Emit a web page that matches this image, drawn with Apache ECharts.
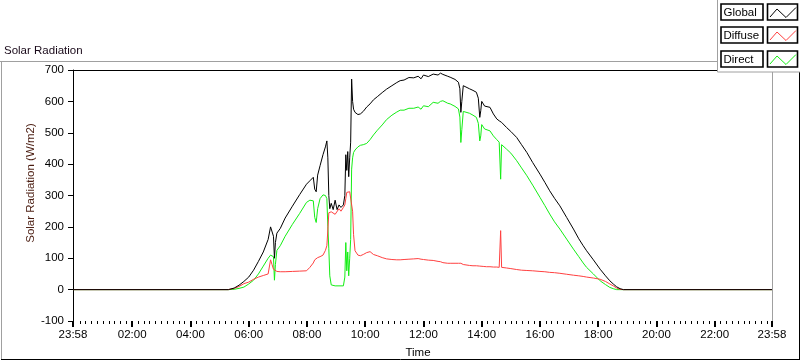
<!DOCTYPE html>
<html>
<head>
<meta charset="utf-8">
<script src="https://cdn.jsdelivr.net/npm/echarts@6/dist/echarts.min.js"></script>
<style>
html,body{margin:0;padding:0;background:#fff;}
#chart{width:800px;height:361px;}
</style>
</head>
<body>
<div id="chart"></div>
<script>
// time in minutes since midnight (-2 = 23:58 of previous day)
const minutes = [
  -2, 318, 330, 340, 350, 360, 370, 380, 390, 400,
  405, 408, 411, 413, 415, 418, 425, 435, 450, 465,
  479, 486, 493, 496, 499, 502, 507, 513, 518, 521,
  523, 525, 527, 530, 534, 538, 542, 546, 550, 555,
  558, 560, 562, 564, 566, 568, 570, 572, 574, 576,
  579, 585, 590, 596, 603, 610, 617, 625, 635, 644,
  655, 665, 672, 680, 690, 700, 709, 715, 720, 730,
  740, 750, 755, 760, 770, 775, 785, 792, 795, 797,
  799, 802, 806, 815, 822, 829, 833, 836, 838, 840,
  843, 846, 850, 857, 864, 871, 876, 878, 879, 881,
  884, 891, 900, 912, 922, 933, 945, 960, 970, 980,
  990, 1001, 1015, 1029, 1040, 1049, 1056, 1070, 1084, 1095,
  1104, 1111, 1118, 1125, 1132, 1438
];
const globalVals = [
  0, 0, 5, 14, 26, 40, 62, 90, 120, 160,
  200, 205, 170, 100, 150, 180, 195, 228, 266, 303,
  336, 347, 358, 320, 312, 365, 395, 430, 455, 474,
  420, 300, 258, 275, 255, 285, 255, 270, 262, 270,
  300, 430, 380, 440, 360, 420, 470, 671, 600, 575,
  565, 558, 560, 568, 582, 592, 605, 615, 628, 639,
  650, 660, 666, 668, 676, 675, 680, 672, 684, 679,
  687, 684, 690, 686, 680, 677, 670, 661, 640, 565,
  600, 650, 655, 640, 635, 629, 610, 549, 570, 600,
  597, 585, 590, 581, 560, 544, 538, 536, 536, 533,
  530, 517, 504, 485, 462, 437, 405, 368, 342, 315,
  291, 267, 230, 193, 162, 140, 124, 95, 65, 44,
  28, 18, 9, 3, 0, 0
];
const diffuseVals = [
  0, 0, 4, 10, 19, 24, 33, 40, 45, 50,
  95, 80, 65, 62, 60, 58, 57, 57, 58, 59,
  60, 71, 85, 95, 98, 102, 105, 110, 125, 140,
  190, 245, 250, 248, 251, 240, 245, 258, 250, 262,
  270, 290, 310, 310, 310, 312, 310, 310, 250, 175,
  124, 110, 108, 112, 118, 121, 112, 108, 102, 98,
  96, 95, 95, 96, 97, 98, 99, 97, 96, 94,
  93, 90, 89, 86, 84, 84, 84, 84, 82, 84,
  82, 80, 78, 77, 76, 76, 75, 75, 75, 74,
  74, 74, 73, 73, 72, 72, 71, 71, 188, 71,
  70, 69, 67, 64, 62, 61, 60, 58, 57, 55,
  54, 52, 49, 46, 44, 42, 40, 37, 33, 26,
  18, 12, 5, 1, 0, 0
];
const directVals = [
  0, 0, 1, 4, 8, 18, 30, 50, 75, 100,
  110, 115, 105, 30, 80, 125, 140, 170, 208, 243,
  278, 285, 283, 230, 214, 258, 290, 302, 300, 290,
  200, 130, 44, 15, 12, 12, 10, 12, 12, 12,
  40, 150, 60, 120, 44, 100, 160, 384, 420, 437,
  445, 455, 460, 462, 466, 478, 493, 508, 525, 542,
  556, 566, 572, 572, 578, 578, 582, 575, 586, 583,
  597, 594, 600, 602, 594, 592, 584, 576, 550, 469,
  510, 568, 572, 562, 556, 549, 530, 474, 490, 526,
  522, 512, 516, 506, 490, 478, 470, 468, 352, 462,
  460, 448, 435, 411, 388, 363, 333, 294, 268, 241,
  216, 193, 161, 129, 105, 85, 71, 50, 28, 16,
  7, 3, 0, 0, 0, 0
];
const seriesNames = ['Global', 'Diffuse', 'Direct'];
const seriesColors = ['#000000', '#ff4040', '#14ee14'];
const majorTicks = [-2, 120, 240, 360, 480, 600, 720, 840, 960, 1080, 1200, 1320, 1438];
const minorStep = 12;
const yMin = -100, yMax = 700, yStep = 100;

const minorTicks = [];
for (let m = minorStep; m < 1438; m += minorStep) {
  if (majorTicks.indexOf(m) < 0) minorTicks.push(m);
}

function fmtTime(v) {
  let m = Math.round(v);
  if (m < 0) m += 1440;
  const h = Math.floor(m / 60), mm = m % 60;
  return (h < 10 ? '0' : '') + h + ':' + (mm < 10 ? '0' : '') + mm;
}

const FONT = 'Liberation Sans';
const chart = echarts.init(document.getElementById('chart'), null, {renderer: 'canvas'});

const valuesBySeries = [globalVals, diffuseVals, directVals];
const series = [2, 1, 0].map(idx => ({
  name: seriesNames[idx],
  type: 'line',
  xAxisIndex: 0,
  yAxisIndex: 0,
  showSymbol: false,
  symbol: 'none',
  animation: false,
  silent: true,
  z: 3 + (2 - idx),
  lineStyle: {color: seriesColors[idx], width: 1},
  itemStyle: {color: seriesColors[idx]},
  data: minutes.map((m, i) => [m, valuesBySeries[idx][i]])
}));

const legendGraphics = [];
legendGraphics.push({
  type: 'rect', z: 50,
  shape: {x: 717.5, y: -2, width: 90, height: 74},
  style: {fill: '#ffffff', stroke: '#a0a0a0', lineWidth: 1}
});
seriesNames.forEach((name, i) => {
  const y0 = 4 + Math.round(i * 23.33);
  legendGraphics.push({
    type: 'rect', z: 51,
    shape: {x: 721, y: y0, width: 42, height: 16},
    style: {fill: '#fff', stroke: '#000', lineWidth: 1.6}
  });
  legendGraphics.push({
    type: 'text', z: 52, x: 723.5, y: y0 + 8.5,
    style: {text: name, fill: '#000', font: '11.5px "' + FONT + '"', textVerticalAlign: 'middle', textAlign: 'left'}
  });
  legendGraphics.push({
    type: 'rect', z: 51,
    shape: {x: 767.5, y: y0, width: 30, height: 16},
    style: {fill: '#fff', stroke: '#000', lineWidth: 1.6}
  });
  legendGraphics.push({
    type: 'polyline', z: 52,
    shape: {points: [[770, y0 + 13], [777, y0 + 5], [786, y0 + 13.5], [796, y0 + 3.5]]},
    style: {stroke: seriesColors[i], lineWidth: 1, fill: null}
  });
});

const option = {
  backgroundColor: '#ffffff',
  animation: false,
  grid: {left: 73, right: 28, top: 70, bottom: 40, containLabel: false},
  xAxis: [{
    type: 'value', min: -2, max: 1438, position: 'bottom',
    axisLine: {show: false, onZero: false},
    axisTick: {show: true, customValues: majorTicks, length: 6, lineStyle: {color: '#000', width: 2}},
    axisLabel: {show: true, customValues: majorTicks, formatter: fmtTime, margin: 8,
      color: '#000', fontSize: 11.5, fontFamily: FONT},
    splitLine: {show: false}
  }, {
    type: 'value', min: -2, max: 1438, position: 'bottom', offset: 0,
    axisLine: {show: false, onZero: false},
    axisTick: {show: true, customValues: minorTicks, length: 3, lineStyle: {color: '#000', width: 1}},
    axisLabel: {show: false},
    splitLine: {show: false}
  }],
  yAxis: {
    type: 'value', min: yMin, max: yMax, interval: yStep,
    axisLine: {show: true, onZero: false, lineStyle: {color: '#000', width: 1}},
    axisTick: {show: true, length: 5, lineStyle: {color: '#000', width: 1}},
    axisLabel: {margin: 9, color: '#000', fontSize: 11.5, fontFamily: FONT},
    splitLine: {show: false}
  },
  series: series,
  graphic: [
    // outer frame
    {type: 'line', z: 40, shape: {x1: 0, y1: 61.5, x2: 800, y2: 61.5}, style: {stroke: '#a0a0a0', lineWidth: 1}},
    {type: 'line', z: 40, shape: {x1: 1.5, y1: 61, x2: 1.5, y2: 360}, style: {stroke: '#a0a0a0', lineWidth: 1}},
    {type: 'line', z: 40, shape: {x1: 1, y1: 359.5, x2: 800, y2: 359.5}, style: {stroke: '#000', lineWidth: 1}},
    {type: 'line', z: 40, shape: {x1: 799.5, y1: 61, x2: 799.5, y2: 360}, style: {stroke: '#000', lineWidth: 1}},
    // plot area border
    {type: 'line', z: 40, shape: {x1: 73, y1: 70.5, x2: 773, y2: 70.5}, style: {stroke: '#000', lineWidth: 1}},
    {type: 'line', z: 40, shape: {x1: 772.5, y1: 70, x2: 772.5, y2: 321}, style: {stroke: '#a0a0a0', lineWidth: 1}},
    // texts
    {type: 'text', z: 45, x: 4, y: 51,
      style: {text: 'Solar Radiation', fill: '#1a0a1a', font: '11.5px "' + FONT + '"', textVerticalAlign: 'middle', textAlign: 'left'}},
    {type: 'text', z: 45, x: 31, y: 183, rotation: Math.PI / 2,
      style: {text: 'Solar Radiation (W/m2)', fill: '#4a1c10', font: '11.5px "' + FONT + '"', textVerticalAlign: 'middle', textAlign: 'center'}},
    {type: 'text', z: 45, x: 418, y: 353,
      style: {text: 'Time', fill: '#000', font: '11.5px "' + FONT + '"', textVerticalAlign: 'middle', textAlign: 'center'}}
  ].concat(legendGraphics)
};
chart.setOption(option);
</script>
</body>
</html>
